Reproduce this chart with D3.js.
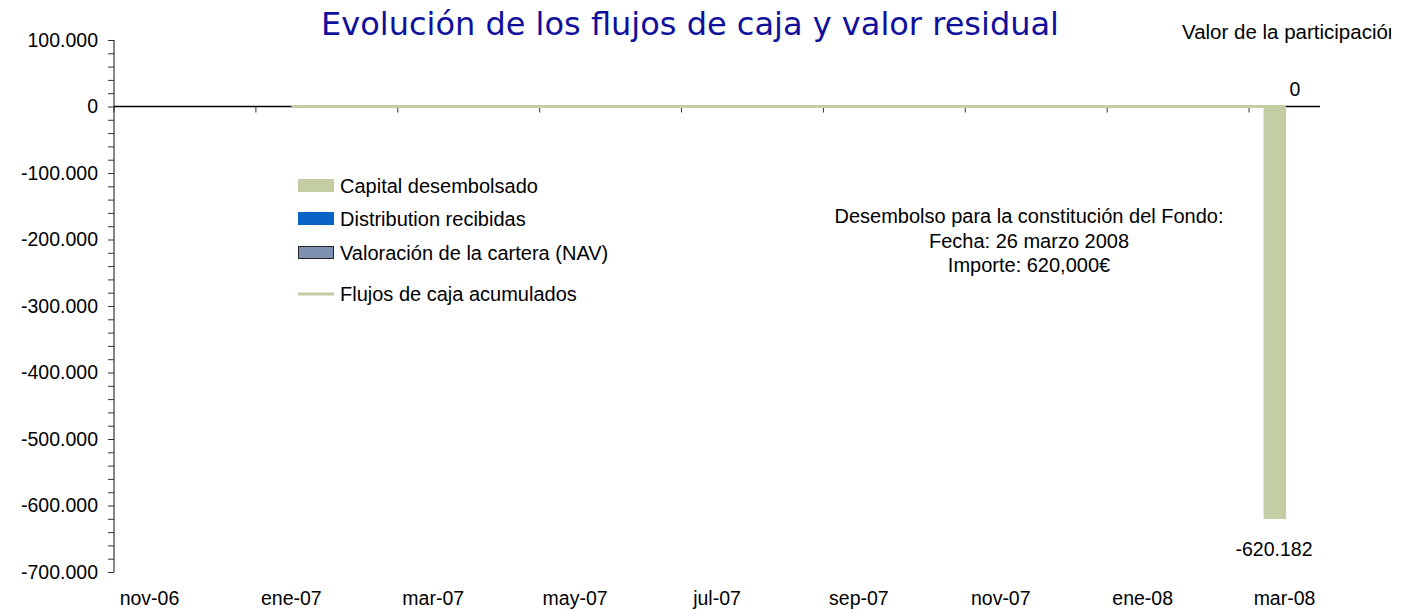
<!DOCTYPE html>
<html>
<head>
<meta charset="utf-8">
<script src="https://cdn.jsdelivr.net/npm/d3@7"></script>
<style>
  body { margin: 0; background: #fff; }
  text { font-family: "Liberation Sans", Arial, sans-serif; fill: #000; }
</style>
</head>
<body>
<svg width="1410" height="610"></svg>
<script>
// data
let months = ["nov-06","dic-06","ene-07","feb-07","mar-07","abr-07","may-07","jun-07","jul-07",
              "ago-07","sep-07","oct-07","nov-07","dic-07","ene-08","feb-08","mar-08"];
let capital = [null,null,null,null,null,null,null,null,null,null,null,null,null,null,null,null,-620182];
let distribution = [null,null,null,null,null,null,null,null,null,null,null,null,null,null,null,null,0];
let cumulative = [null,null,0,0,0,0,0,0,0,0,0,0,0,0,0,0,-620182];
let yTicks = [100000,0,-100000,-200000,-300000,-400000,-500000,-600000,-700000];
let legendItems = ["Capital desembolsado","Distribution recibidas","Valoración de la cartera (NAV)","Flujos de caja acumulados"];
let noteLines = ["Desembolso para la constitución del Fondo:","Fecha: 26 marzo 2008","Importe: 620,000€"];

let green = "#c3cea5", blue = "#0a64c8", nav = "#7f91b1";

let svg = d3.select("svg");
let plotL = 114, plotR = 1320, plotT = 40, plotB = 572;

let x = d3.scaleBand().domain(months).range([plotL, plotR]).padding(0);
let x1 = d3.scaleBand().domain(["capital","distribution"]).range([0, x.bandwidth()])
  .paddingInner(0).paddingOuter(0.69);
let y = d3.scaleLinear().domain([-700000, 100000]).range([plotB, plotT]);

// spanish style thousands, plain hyphen for negatives
let fmt = d => d3.format(",")(d).replace(/,/g, ".").replace("\u2212", "-");

// title
svg.append("text")
  .attr("x", 690).attr("y", 35)
  .attr("text-anchor", "middle")
  .style("font-family", "'DejaVu Sans', Verdana, sans-serif")
  .style("font-size", "32px")
  .style("fill", "#10109c")
  .text("Evolución de los flujos de caja y valor residual");

// secondary axis title, clipped like the reference
svg.append("clipPath").attr("id", "clipR")
  .append("rect").attr("x", 0).attr("y", 0).attr("width", 1391).attr("height", 610);
svg.append("text")
  .attr("x", 1182).attr("y", 39)
  .attr("clip-path", "url(#clipR)")
  .style("font-size", "20.5px")
  .text("Valor de la participación");

// y axis
let yAxis = svg.append("g").attr("transform", `translate(${plotL},0)`);
yAxis.call(d3.axisLeft(y).tickValues(d3.range(-700000, 100001, 20000)).tickSize(6).tickFormat(""));
yAxis.select(".domain").attr("stroke", "#888").attr("stroke-width", 2).attr("d", `M0,${plotT}V${plotB}`);
yAxis.selectAll(".tick line").attr("stroke", "#333");
yAxis.selectAll(".ylab").data(yTicks).join("text")
  .attr("class", "ylab")
  .attr("x", -16).attr("y", d => y(d)).attr("dy", "0.35em")
  .attr("text-anchor", "end")
  .style("font-size", "19.5px")
  .text(d => fmt(d));

// x axis at zero
let xAxis = svg.append("g").attr("transform", `translate(0,${y(0)})`);
xAxis.append("line").attr("x1", plotL).attr("x2", plotR).attr("stroke", "#000").attr("stroke-width", 1.5);
let tickIdx = d3.range(0, months.length, 2);
xAxis.selectAll(".xt").data(tickIdx).join("line")
  .attr("class", "xt")
  .attr("x1", i => x(months[i])).attr("x2", i => x(months[i]))
  .attr("y1", 0).attr("y2", 6)
  .attr("stroke", "#333");
svg.selectAll(".xlab").data(tickIdx).join("text")
  .attr("class", "xlab")
  .attr("x", i => x(months[i]) + x.bandwidth() / 2)
  .attr("y", 605)
  .attr("text-anchor", "middle")
  .style("font-size", "19.5px")
  .text(i => months[i]);

// bars
let bars = [];
months.forEach((m, i) => {
  if (capital[i] != null) bars.push({m: m, s: "capital", v: capital[i], c: green});
  if (distribution[i] != null) bars.push({m: m, s: "distribution", v: distribution[i], c: blue});
});
svg.selectAll(".bar").data(bars).join("rect")
  .attr("class", "bar")
  .attr("x", d => x(d.m) + x1(d.s))
  .attr("width", x1.bandwidth())
  .attr("y", d => y(Math.max(0, d.v)))
  .attr("height", d => Math.abs(y(d.v) - y(0)))
  .attr("fill", d => d.c);

// cumulative line
let lineData = months.map((m, i) => ({m: m, v: cumulative[i]})).filter(d => d.v != null);
svg.append("path")
  .datum(lineData)
  .attr("fill", "none")
  .attr("stroke", green)
  .attr("stroke-width", 3)
  .attr("d", d3.line().curve(d3.curveStepAfter)
    .x(d => x(d.m) + x.bandwidth() / 2)
    .y(d => y(d.v)));

// bar labels
svg.selectAll(".blab").data(bars).join("text")
  .attr("class", "blab")
  .attr("x", d => x(d.m) + x1(d.s) + x1.bandwidth() / 2)
  .attr("y", d => d.v < 0 ? y(d.v) + 37 : y(d.v) - 11)
  .attr("text-anchor", "middle")
  .style("font-size", "19.5px")
  .text(d => fmt(d.v));

// legend
let lg = svg.append("g").attr("transform", "translate(298,186)");
let rowY = [0, 33, 67, 108];
legendItems.forEach((t, i) => {
  let r = lg.append("g").attr("transform", `translate(0,${rowY[i]})`);
  if (i === 0) r.append("rect").attr("x", 0).attr("y", -7).attr("width", 36).attr("height", 13).attr("fill", green);
  if (i === 1) r.append("rect").attr("x", 0).attr("y", -7).attr("width", 36).attr("height", 13).attr("fill", blue);
  if (i === 2) r.append("rect").attr("x", 0.5).attr("y", -6.5).attr("width", 35).attr("height", 12).attr("fill", nav).attr("stroke", "#222");
  if (i === 3) r.append("line").attr("x1", 0).attr("x2", 36).attr("stroke", green).attr("stroke-width", 3);
  r.append("text").attr("x", 42).attr("dy", "0.35em").style("font-size", "20px").text(t);
});

// note
svg.selectAll(".note").data(noteLines).join("text")
  .attr("class", "note")
  .attr("x", 1029).attr("y", (d, i) => 223 + i * 24.5)
  .attr("text-anchor", "middle")
  .style("font-size", "20px")
  .text(d => d);
</script>
</body>
</html>
